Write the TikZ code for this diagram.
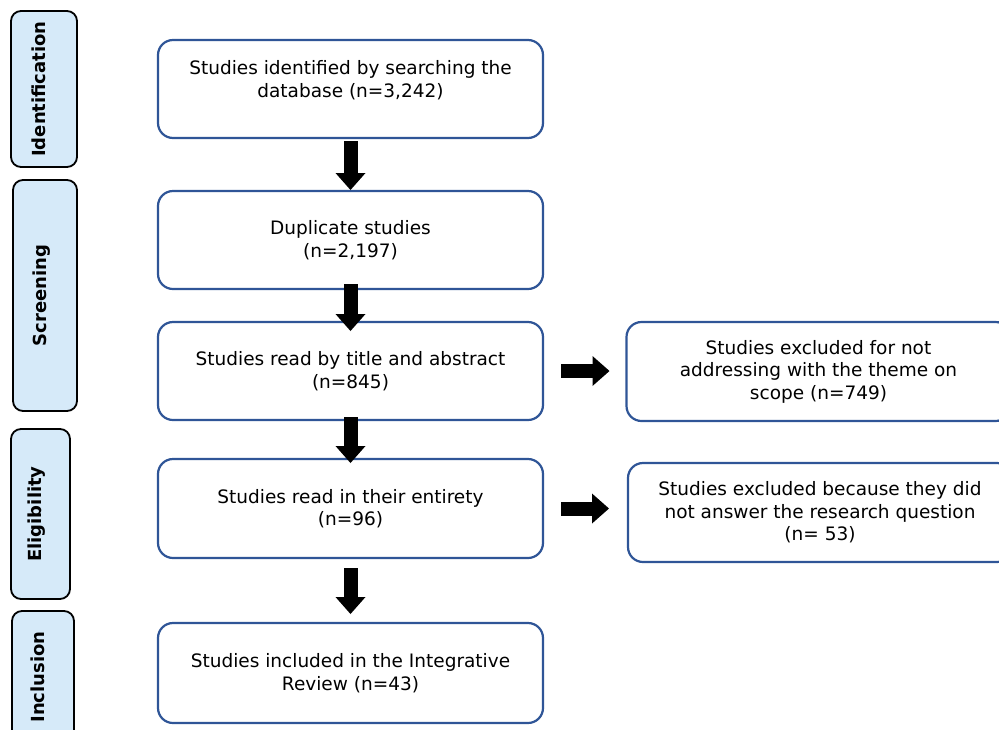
\documentclass[tikz,border=0pt]{standalone}
\usepackage{fontspec}
\setmainfont{DejaVu Sans}
\usepackage{xcolor}
\usepackage{tikz}
\usetikzlibrary{arrows.meta}
\definecolor{azul}{HTML}{2F5597}
\definecolor{azulclaro}{HTML}{D6EAF9}
\tikzset{
  caja/.style={draw=azul,fill=white,rounded corners=15pt,line width=2.2pt,align=center,font=\fontsize{18.5}{22.5}\selectfont,minimum width=385pt,minimum height=98pt,inner sep=0pt,outer sep=0pt},
  cajaetapa/.style={draw=black,fill=azulclaro,rounded corners=10pt,line width=1.8pt,rotate=90,font=\fontsize{18}{22}\selectfont\bfseries,text depth=11pt,inner sep=0pt,outer sep=0pt},
  flecha/.style={-{Triangle[width=30pt,length=17pt,line width=0pt]},line width=14pt,black},
}

\begin{document}
\begin{tikzpicture}[x=1pt,y=-1pt]
  \clip (0,0) rectangle (999,729);
  % etapas
  \node[cajaetapa,minimum width=156pt,minimum height=66pt] (ident) at (44,89) {Identification};
  \node[cajaetapa,minimum width=231pt,minimum height=64pt] (cribado) at (45,295.5) {Screening};
  \node[cajaetapa,minimum width=170pt,minimum height=59pt] (elegib) at (40.5,514) {Eligibility};
  \node[cajaetapa,minimum width=132pt,minimum height=62pt] (inclus) at (43,677) {Inclusion};
  % cajas principales
  \node[caja,text depth=20pt] (busqueda) at (350.5,89) {Studies identified by searching the\\database (n=3,242)};
  \node[caja] (duplicados) at (350.5,240) {Duplicate studies\\(n=2,197)};
  \node[caja] (titulo) at (350.5,371) {Studies read by title and abstract\\(n=845)};
  \node[caja,minimum height=99pt] (completo) at (350.5,508.5) {Studies read in their entirety\\(n=96)};
  \node[caja,minimum height=100pt] (incluidos) at (350.5,673) {Studies included in the Integrative\\Review (n=43)};
  % excluidos
  \node[caja,minimum width=384pt,minimum height=99pt] (excl1) at (818.5,371.5) {Studies excluded for not\\addressing with the theme on\\scope (n=749)};
  \node[caja,minimum width=384pt,minimum height=99pt] (excl2) at (820,512.5) {Studies excluded because they did\\not answer the research question\\(n= 53)};
  \draw[flecha,shorten <=3pt,shorten >=1pt] (busqueda) -- (duplicados);
  \draw[flecha,shorten <=-5pt,shorten >=-9pt] (duplicados) -- (titulo);
  \draw[flecha,shorten <=-3pt,shorten >=-4pt] (titulo) -- (completo);
  \draw[flecha,shorten <=10pt,shorten >=9pt] (completo) -- (incluidos);
  \draw[flecha,shorten <=18pt,shorten >=17pt] (titulo.east) -- (titulo.east -| excl1.west);
  \draw[flecha,shorten <=18pt,shorten >=19pt] (completo.east) -- (completo.east -| excl2.west);
\end{tikzpicture}
\end{document}
